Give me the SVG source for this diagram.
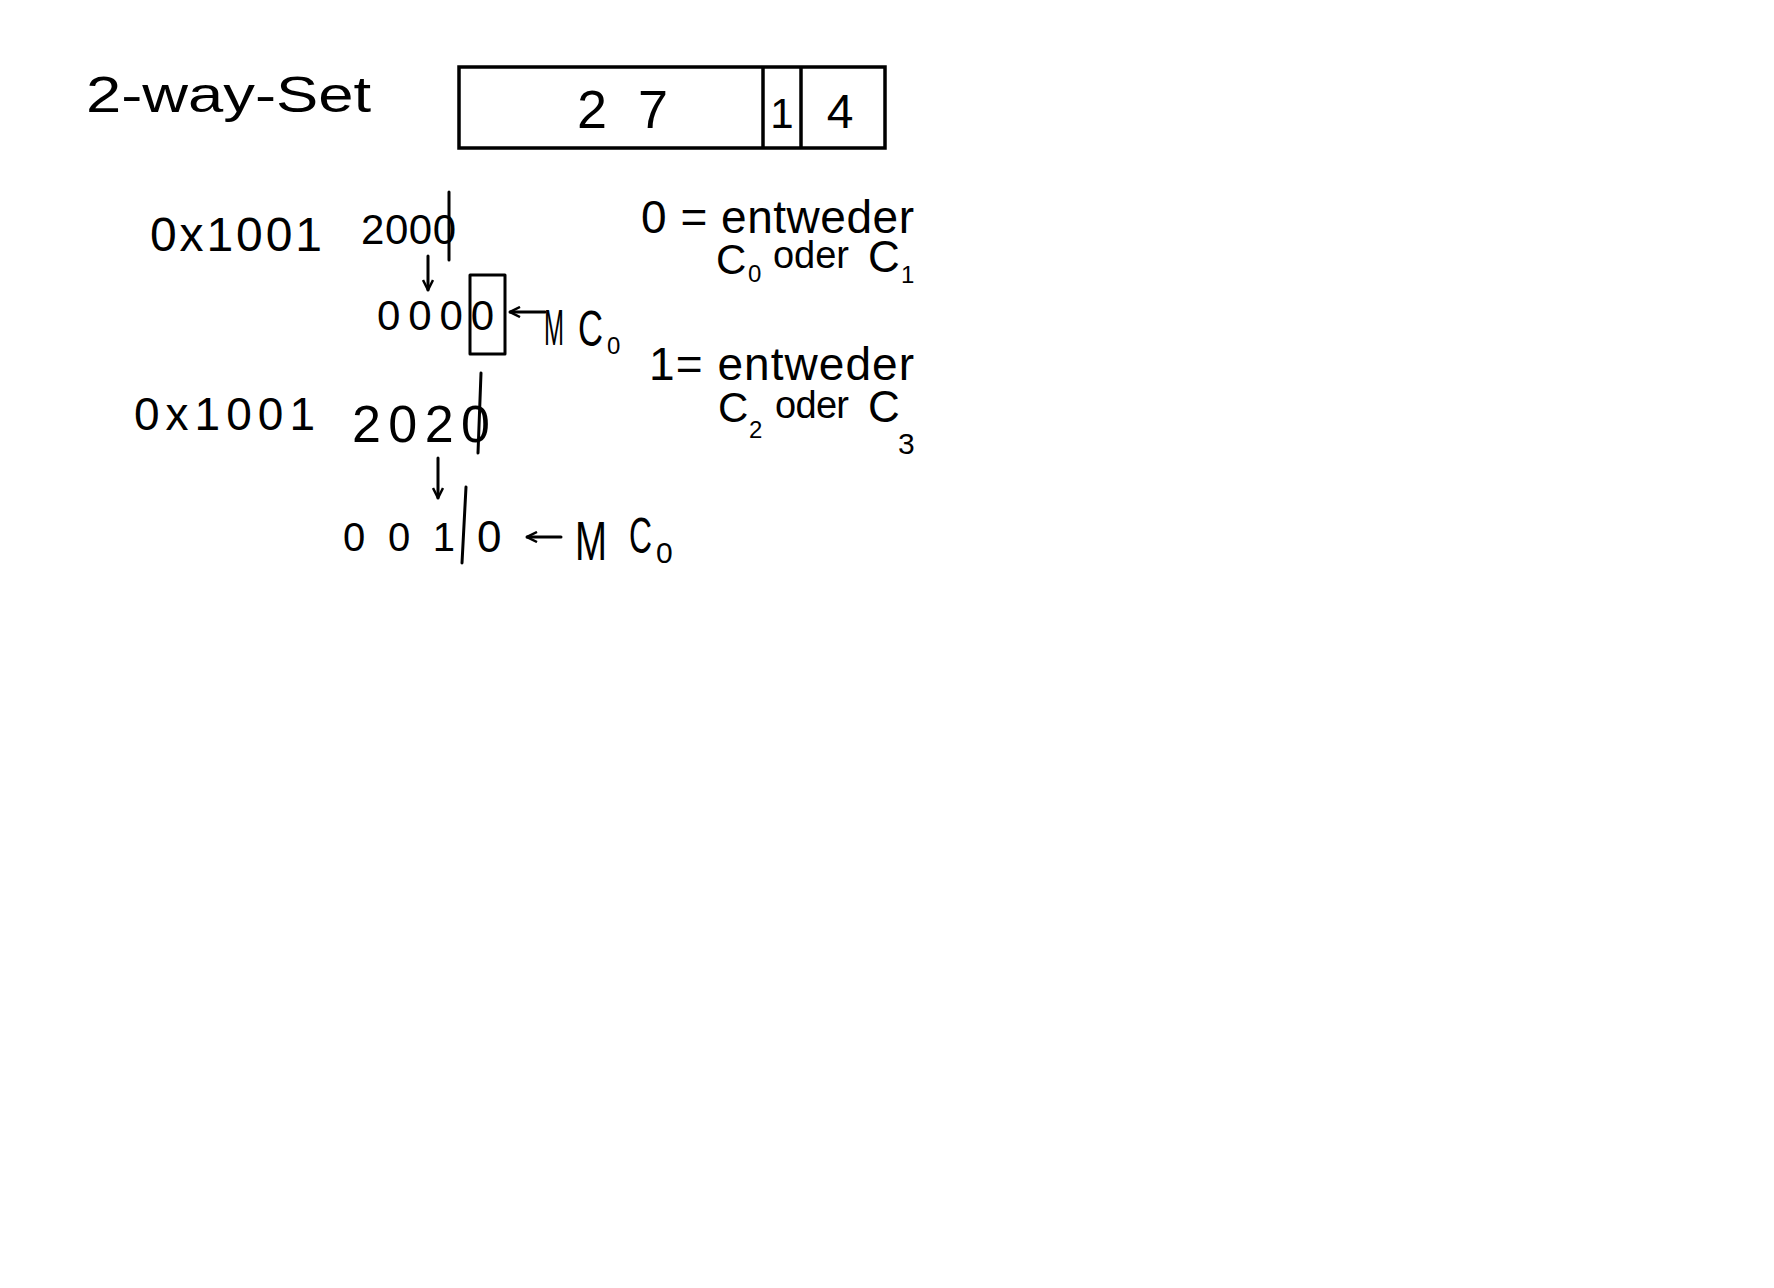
<svg xmlns="http://www.w3.org/2000/svg" width="1774" height="1288" viewBox="0 0 1774 1288">
<style>
text{font-family:"Liberation Sans",Arial,sans-serif;fill:#000}
.ln{stroke:#000;stroke-width:3;fill:none;stroke-linecap:round;stroke-linejoin:round}
.box{stroke:#000;stroke-width:3.5;fill:none}
.sub{font-size:24px}
</style>
<defs>
<marker id="ah" viewBox="0 0 12 12" refX="11" refY="6" markerWidth="12" markerHeight="12" markerUnits="userSpaceOnUse" orient="auto">
<path d="M1,1 L11,6 L1,11" fill="none" stroke="#000" stroke-width="2.5"/>
</marker>
</defs>
<rect width="1774" height="1288" fill="#fff"/>

<g id="title">
<text x="86" y="112" font-size="50" textLength="285" lengthAdjust="spacingAndGlyphs">2-way-Set</text>
</g>

<g id="address-layout">
<rect class="box" x="459" y="67" width="426" height="81"/>
<line class="box" x1="763" y1="67" x2="763" y2="148"/>
<line class="box" x1="801" y1="67" x2="801" y2="148"/>
<text x="577" y="128" font-size="54" textLength="91" lengthAdjust="spacing">27</text>
<text x="782" y="128" font-size="42" text-anchor="middle">1</text>
<text x="840" y="128" font-size="48" text-anchor="middle">4</text>
</g>

<g id="addr1">
<text x="150" y="251" font-size="48" textLength="172" lengthAdjust="spacing">0x1001</text>
<text x="361" y="244" font-size="42" textLength="95" lengthAdjust="spacing">2000</text>
<line class="ln" x1="449" y1="192" x2="449" y2="260"/>
</g>

<g id="bits1">
<text x="377" y="330" font-size="42" textLength="117" lengthAdjust="spacing">0000</text>
<rect class="ln" x="470" y="275" width="35" height="79"/>
<text x="544" y="345" font-size="50" textLength="20" lengthAdjust="spacingAndGlyphs">M</text>
<text x="578" y="346" font-size="50" textLength="25" lengthAdjust="spacingAndGlyphs">C</text>
<text x="607" y="354" class="sub">0</text>
</g>

<g id="legend0">
<text x="641" y="233" font-size="46" textLength="273" lengthAdjust="spacing">0 = entweder</text>
<text x="716" y="274" font-size="42">C</text>
<text x="748" y="282" class="sub">0</text>
<text x="773" y="268" font-size="38" textLength="76" lengthAdjust="spacing">oder</text>
<text x="868" y="272" font-size="44">C</text>
<text x="901" y="283" class="sub">1</text>
</g>

<g id="legend1">
<text x="649" y="380" font-size="46" textLength="265" lengthAdjust="spacing">1= entweder</text>
<text x="718" y="422" font-size="42">C</text>
<text x="749" y="438" class="sub">2</text>
<text x="775" y="418" font-size="38" textLength="74" lengthAdjust="spacing">oder</text>
<text x="868" y="422" font-size="44">C</text>
<text x="898" y="454" font-size="30">3</text>
</g>

<g id="addr2">
<text x="134" y="430" font-size="46" textLength="181" lengthAdjust="spacing">0x1001</text>
<text x="352" y="442" font-size="52" textLength="138" lengthAdjust="spacing">2020</text>
<line class="ln" x1="481" y1="373" x2="478" y2="453"/>
</g>

<g id="bits2">
<text x="343" y="551" font-size="40" textLength="112" lengthAdjust="spacing">001</text>
<line class="ln" x1="466" y1="487" x2="462" y2="563"/>
<text x="477" y="552" font-size="44">0</text>
<text x="575" y="560" font-size="56" textLength="32" lengthAdjust="spacingAndGlyphs">M</text>
<text x="629" y="553" font-size="50" textLength="23" lengthAdjust="spacingAndGlyphs">C</text>
<text x="656" y="563" font-size="30">0</text>
</g>

<g id="connectors">
<line class="ln" x1="428" y1="256" x2="428" y2="290" marker-end="url(#ah)"/>
<line class="ln" x1="545" y1="312" x2="510" y2="312" marker-end="url(#ah)"/>
<line class="ln" x1="438" y1="458" x2="438" y2="498" marker-end="url(#ah)"/>
<line class="ln" x1="561" y1="537" x2="527" y2="537" marker-end="url(#ah)"/>
</g>
</svg>
